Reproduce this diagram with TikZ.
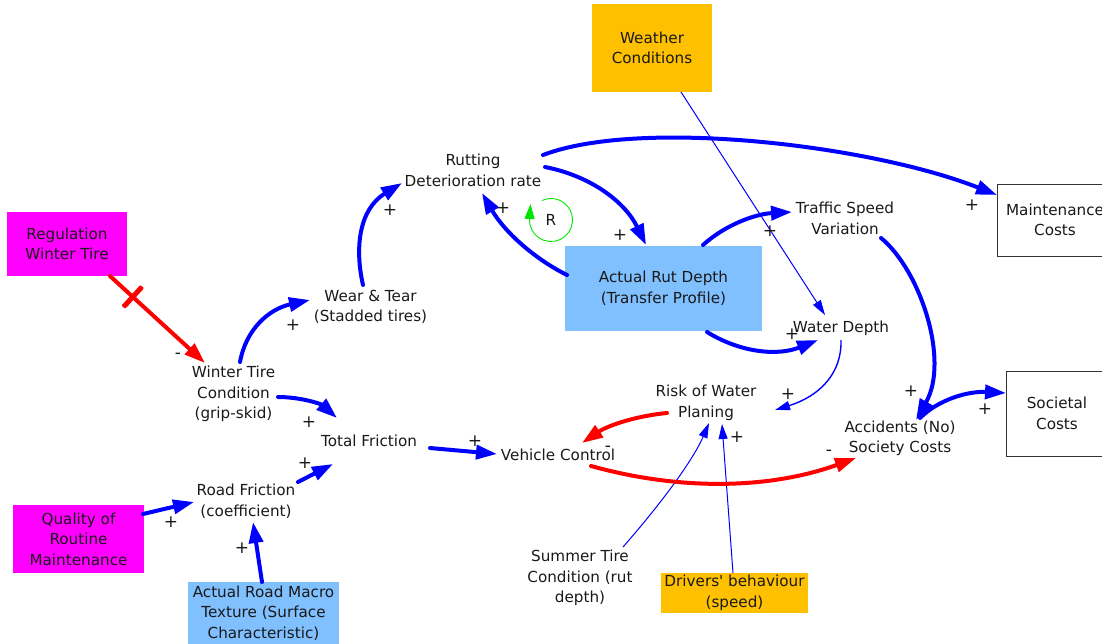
\documentclass[tikz,border=0pt]{standalone}
\usepackage{fontspec}
\setmainfont{DejaVu Sans}[Ligatures=TeXOff]
\usetikzlibrary{arrows.meta}

\definecolor{magentaC}{RGB}{255,0,255}
\definecolor{orangeC}{RGB}{255,192,0}
\definecolor{skyC}{RGB}{128,192,255}
\definecolor{loopC}{RGB}{0,230,0}

\begin{document}
\begin{tikzpicture}[x=1pt,y=-1pt,
  every node/.style={inner sep=0pt, align=center,
    font=\fontsize{15.2}{20.5}\selectfont, text=black!90},
  magbox/.style={fill=magentaC},
  orbox/.style={fill=orangeC},
  skybox/.style={fill=skyC},
  costbox/.style={draw=black!80, line width=0.8pt, fill=white},
  plink/.style={draw=blue, line width=4pt, line cap=round,
    -{Triangle[length=21pt,width=14pt]}},
  nlink/.style={draw=red, line width=4pt, line cap=round,
    -{Triangle[length=21pt,width=14pt]}},
  flink/.style={draw=blue, line width=1pt,
    -{Triangle[length=15pt,width=9pt]}},
  signlbl/.style={font=\fontsize{17}{17}\selectfont}]

\useasboundingbox (0,0) rectangle (1102,643);

% exogenous boxes
\node[orbox, minimum width=120pt, minimum height=88pt] (weather) at (652,48) {Weather\\Conditions};
\node[magbox, minimum width=120pt, minimum height=64pt] (reg) at (67,244) {Regulation\\Winter Tire};
\node[magbox, minimum width=131pt, minimum height=68pt] (qrm) at (78.5,539) {Quality of\\Routine\\Maintenance};
\node[skybox, minimum width=151pt, minimum height=62pt] (macro) at (263.5,613) {Actual Road Macro\\Texture (Surface\\Characteristic)};
\node[skybox, minimum width=197pt, minimum height=85pt] (ard) at (663.5,288) {Actual Rut Depth\\(Transfer Profile)};
\node[orbox, minimum width=147pt, minimum height=40pt] (drv) at (734.5,593) {Drivers' behaviour\\(speed)};
\node[costbox, minimum width=116pt, minimum height=72pt] (mc) at (1055,220) {Maintenance\\Costs};
\node[costbox, minimum width=102pt, minimum height=85pt] (sc) at (1057,413.5) {Societal\\Costs};

% variables
\node (rdr) at (473,170.5) {Rutting\\Deterioration rate};
\node (tsv) at (845,218.5) {Traffic Speed\\Variation};
\node (wd) at (841,328) {Water Depth};
\node (wear) at (370.5,307) {Wear \& Tear\\(Stadded tires)};
\node (wtc) at (233.5,394) {Winter Tire\\Condition\\(grip-skid)};
\node (tf) at (369,441) {Total Friction};
\node (vc) at (558,455) {Vehicle Control};
\node (rwp) at (706,403) {Risk of Water\\Planing};
\node (acc) at (900,438.5) {Accidents (No)\\Society Costs};
\node (rf) at (246,501) {Road Friction\\(coefficient)};
\node (stc) at (580,578) {Summer Tire\\Condition (rut\\depth)};

% reinforcing loop marker
\node (loopR) at (551,220) {R};
\draw[loopC, line width=0.9pt, -{Triangle[length=15pt,width=10pt]}]
  ([shift={(-115:21.5)}]loopR.center) arc[start angle=-115, end angle=180, radius=21.5]
  -- ++(1,-16);

% positive links
\draw[plink] ([shift={(6.5,-32)}]wtc.center) .. controls (246,329) and (269,309) .. ([shift={(-60.5,-7)}]wear.center);
\draw[plink] ([shift={(-7.5,-22)}]wear.center) .. controls (355,250) and (358,210) .. ([shift={(-71,12.5)}]rdr.center);
\draw[plink] ([shift={(70,-15.5)}]rdr.center) .. controls (640,118) and (870,145) .. ([shift={(-58,-25)}]mc.center);
\draw[plink] ([shift={(72,-3.5)}]rdr.center) .. controls (591,176) and (625,202) .. ([shift={(-17.5,-43)}]ard.center);
\draw[plink] ([shift={(-96.5,-13)}]ard.center) .. controls (533,258) and (504,231) .. ([shift={(9,22.5)}]rdr.center);
\draw[plink] ([shift={(39.5,-43)}]ard.center) .. controls (725,225) and (755,214) .. ([shift={(-53,-6.5)}]tsv.center);
\draw[plink] ([shift={(43.5,44)}]ard.center) .. controls (741,353) and (778,356) .. ([shift={(-23,12)}]wd.center);
\draw[plink] ([shift={(36,19.5)}]tsv.center) .. controls (920,270) and (950,360) .. ([shift={(16,-18.5)}]acc.center);
\draw[plink] ([shift={(20,-20.5)}]acc.center) .. controls (938,400) and (967,391) .. ([shift={(-51,-20.5)}]sc.center);
\draw[plink] ([shift={(44.5,3)}]wtc.center) .. controls (301,397) and (321,404) .. ([shift={(-32,-23)}]tf.center);
\draw[plink] ([shift={(52,-19)}]rf.center) -- ([shift={(-36,23)}]tf.center);
\draw[plink] ([shift={(64.5,-25)}]qrm.center) -- ([shift={(-52,1)}]rf.center);
\draw[plink] ([shift={(-1.5,-31)}]macro.center) -- ([shift={(7,21)}]rf.center);
\draw[plink] ([shift={(61,7)}]tf.center) -- ([shift={(-61,-1)}]vc.center);

% thin links
\draw[flink, line width=1.4pt] ([shift={(0,12)}]wd.center) .. controls (842,373) and (820,396) .. ([shift={(69,7)}]rwp.center);
\draw[flink] ([shift={(29,44)}]weather.center) -- ([shift={(-16,-13)}]wd.center);
\draw[flink] ([shift={(43,-31)}]stc.center) .. controls (665,499) and (694,458) .. ([shift={(3,20)}]rwp.center);
\draw[flink] ([shift={(-1.5,-20)}]drv.center) -- ([shift={(16,21)}]rwp.center);

% negative links
\draw[nlink] ([shift={(43,32)}]reg.center) --
  node[sloped, pos=0.24, fill=red, minimum width=5pt, minimum height=28pt, rounded corners=1pt] (delay) {}
  ([shift={(-28.5,-31)}]wtc.center);
\draw[nlink] ([shift={(-39,10)}]rwp.center) .. controls (635,416) and (607,426) .. ([shift={(24,-12)}]vc.center);
\draw[nlink] ([shift={(33,11)}]vc.center) .. controls (681,491) and (770,489) .. ([shift={(-44,19.5)}]acc.center);

% link polarities
\node[signlbl] (s1) at (293,325) {+};
\node[signlbl] (s2) at (390,210) {+};
\node[signlbl] (s3) at (972,205) {+};
\node[signlbl] (s4) at (620,235) {+};
\node[signlbl] (s5) at (503,208) {+};
\node[signlbl] (s6) at (770,231) {+};
\node[signlbl] (s7) at (792,334) {+};
\node[signlbl] (s8) at (788,394) {+};
\node[signlbl] (s9) at (911,391) {+};
\node[signlbl] (s10) at (985,409) {+};
\node[signlbl] (s11) at (309,422) {+};
\node[signlbl] (s12) at (305,463) {+};
\node[signlbl] (s13) at (171,522) {+};
\node[signlbl] (s14) at (242,548) {+};
\node[signlbl] (s15) at (475,441) {+};
\node[signlbl] (s16) at (737,437) {+};
\node[signlbl] (m1) at (178,356) {-};
\node[signlbl] (m2) at (608,449) {-};
\node[signlbl] (m3) at (829,453) {-};

\end{tikzpicture}
\end{document}
